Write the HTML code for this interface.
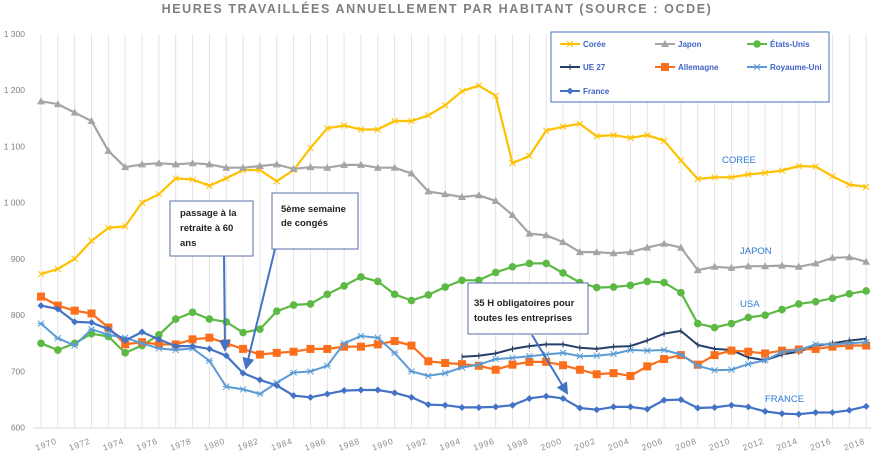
<!DOCTYPE html>
<html><head><meta charset="utf-8"><style>
body{margin:0;background:#fff;}
svg{display:block;font-family:"Liberation Sans",sans-serif;}
</style></head><body>
<svg id="c" width="871" height="472" viewBox="0 0 871 472" xmlns="http://www.w3.org/2000/svg"></svg>
<script>
const S=document.getElementById('c');let h='';
const X=i=>41+i*16.84, Y=v=>427.7-(v-600)*0.5627;
h+='<text x="437" y="13" text-anchor="middle" font-size="12.5" font-weight="bold" fill="#7f7f7f" letter-spacing="1.6">HEURES TRAVAILLÉES ANNUELLEMENT PAR HABITANT (SOURCE : OCDE)</text>';
for(let i=0;i<50;i++){h+=`<line x1="${X(i)}" y1="34" x2="${X(i)}" y2="428" stroke="#e3e3e3" stroke-width="1"/>`;}
h+='<line x1="33" y1="428" x2="871" y2="428" stroke="#d9d9d9"/>';
for(let v=600;v<=1300;v+=100){let s=v>=1000?('1 '+String(v).slice(1)):v;h+=`<text x="25" y="${Y(v)+3}" text-anchor="end" font-size="8.5" fill="#7f7f7f">${s}</text>`;}
for(let y=1970;y<=2018;y+=2){let x=X(y-1970);h+=`<text transform="translate(${x+6},${447}) rotate(-20)" text-anchor="middle" font-size="8.5" fill="#8c8c8c" letter-spacing="0.8">${y}</text>`;}
const D={
kor:[873,882,900,932,955,958,1000,1015,1043,1041,1030,1043,1058,1058,1038,1058,1097,1132,1137,1130,1130,1145,1145,1155,1173,1198,1208,1190,1070,1083,1128,1135,1140,1118,1120,1115,1120,1110,1075,1042,1045,1045,1050,1053,1057,1065,1064,1047,1032,1028],
jap:[1180,1175,1160,1145,1092,1063,1068,1070,1068,1070,1068,1062,1062,1065,1068,1060,1063,1062,1067,1067,1062,1062,1052,1020,1015,1010,1013,1003,978,945,942,930,912,912,910,912,920,927,920,880,886,884,887,887,888,886,892,902,903,895],
usa:[750,738,750,767,762,733,746,765,793,805,793,788,769,775,807,818,820,837,852,868,860,837,826,836,850,862,862,876,886,892,892,875,858,849,850,853,860,858,840,785,778,785,796,800,810,820,824,830,838,843],
ger:[833,817,808,803,778,748,752,748,748,757,760,750,740,730,733,735,740,740,744,744,748,754,746,718,715,713,710,703,712,717,717,711,703,695,697,692,709,722,729,712,729,737,735,732,737,739,740,744,746,746],
uk:[785,759,746,775,765,760,750,741,738,741,719,673,668,660,680,698,700,710,750,763,760,733,700,692,697,707,712,722,724,727,730,733,727,728,731,738,737,738,730,710,702,703,713,720,734,738,748,748,750,752],
fra:[817,811,788,787,775,755,770,757,745,745,740,728,697,685,675,657,654,660,666,667,667,662,654,641,640,636,636,637,640,652,656,652,635,632,637,637,633,649,650,635,636,640,637,629,625,624,627,627,631,638]};
const eu=[726,728,732,740,745,748,748,742,740,744,745,755,767,772,747,740,738,725,720,730,735,745,750,755,758];
function mk(t,x,y,c){
 if(t=='x')return `<path d="M${x-3} ${y-3}L${x+3} ${y+3}M${x-3} ${y+3}L${x+3} ${y-3}" stroke="${c}" stroke-width="1"/>`;
 if(t=='tri')return `<path d="M${x} ${y-4}L${x+4} ${y+3}L${x-4} ${y+3}Z" fill="${c}"/>`;
 if(t=='o')return `<circle cx="${x}" cy="${y}" r="3.8" fill="${c}"/>`;
 if(t=='sq')return `<rect x="${x-4}" y="${y-4}" width="8" height="8" fill="${c}"/>`;
 if(t=='d')return `<path d="M${x} ${y-3.5}L${x+3.5} ${y}L${x} ${y+3.5}L${x-3.5} ${y}Z" fill="${c}"/>`;
 if(t=='ast')return `<path d="M${x-3} ${y-3}L${x+3} ${y+3}M${x-3} ${y+3}L${x+3} ${y-3}M${x-3.5} ${y}L${x+3.5} ${y}" stroke="${c}" stroke-width="1"/>`;
 if(t=='p')return `<path d="M${x} ${y-3}L${x} ${y+3}" stroke="${c}" stroke-width="1"/>`;
 return '';}
function ser(arr,off,c,t,w){let p=arr.map((v,i)=>X(i+off).toFixed(1)+','+Y(v).toFixed(1)).join(' ');
 let s=`<polyline points="${p}" fill="none" stroke="${c}" stroke-width="${w}" stroke-linejoin="round"/>`;
 arr.forEach((v,i)=>s+=mk(t,X(i+off),Y(v),c));h+=s;}
ser(D.kor,0,'#ffc000','x',2.2);
ser(D.jap,0,'#a5a5a5','tri',2.2);
ser(D.usa,0,'#5bb944','o',2.2);
ser(eu,25,'#263f6a','p',2);
ser(D.ger,0,'#fb6f1c','sq',2.2);
ser(D.uk,0,'#5b9bd5','ast',2);
ser(D.fra,0,'#4472c4','d',2.2);
// legend
h+='<rect x="551" y="32" width="278" height="70" fill="#fff" stroke="#4472c4" stroke-width="1"/>';
const L=[[560,44,'#ffc000','x','Corée'],[655,44,'#a5a5a5','tri','Japon'],[747,44,'#5bb944','o','États-Unis'],[560,67,'#263f6a','p','UE 27'],[655,67,'#fb6f1c','sq','Allemagne'],[747,67,'#5b9bd5','ast','Royaume-Uni'],[560,91,'#4472c4','d','France']];
L.forEach(([x,y,c,t,n])=>{h+=`<line x1="${x}" y1="${y}" x2="${x+20}" y2="${y}" stroke="${c}" stroke-width="2"/>`+mk(t,x+10,y,c)+`<text x="${x+23}" y="${y+3}" font-size="8" font-weight="bold" fill="#3d63c4">${n}</text>`;});
// labels
[[722,163,'COREE'],[740,254,'JAPON'],[740,307,'USA'],[765,402,'FRANCE']].forEach(([x,y,t])=>h+=`<text x="${x}" y="${y}" font-size="9.5" fill="#2e7bd6">${t}</text>`);
// annotations
h+='<defs><marker id="ah" markerWidth="6" markerHeight="6" refX="5" refY="3" orient="auto"><path d="M0 0L6 3L0 6Z" fill="#4472c4"/></marker></defs>';
h+='<line x1="224" y1="256" x2="225" y2="350" stroke="#4472c4" stroke-width="2" marker-end="url(#ah)"/>';
h+='<line x1="275" y1="249" x2="246" y2="368" stroke="#4472c4" stroke-width="2" marker-end="url(#ah)"/>';
h+='<line x1="532" y1="335" x2="567" y2="393" stroke="#4472c4" stroke-width="2" marker-end="url(#ah)"/>';
h+='<rect x="170" y="201" width="83" height="55" fill="#fff" stroke="#5a6fae" stroke-width="1"/>';
h+='<text font-size="9.5" font-weight="bold" fill="#222"><tspan x="180" y="216">passage à la</tspan><tspan x="180" y="231">retraite à 60</tspan><tspan x="180" y="246">ans</tspan></text>';
h+='<rect x="272" y="193" width="86" height="56" fill="#fff" stroke="#5a6fae" stroke-width="1"/>';
h+='<text font-size="9.5" font-weight="bold" fill="#222"><tspan x="281" y="212">5ème semaine</tspan><tspan x="281" y="226">de congés</tspan></text>';
h+='<rect x="468" y="283" width="120" height="51" fill="#fff" stroke="#5a6fae" stroke-width="1"/>';
h+='<text font-size="9.5" font-weight="bold" fill="#222"><tspan x="474" y="306">35 H obligatoires pour</tspan><tspan x="474" y="321">toutes les entreprises</tspan></text>';
S.innerHTML=h;
</script>
</body></html>
